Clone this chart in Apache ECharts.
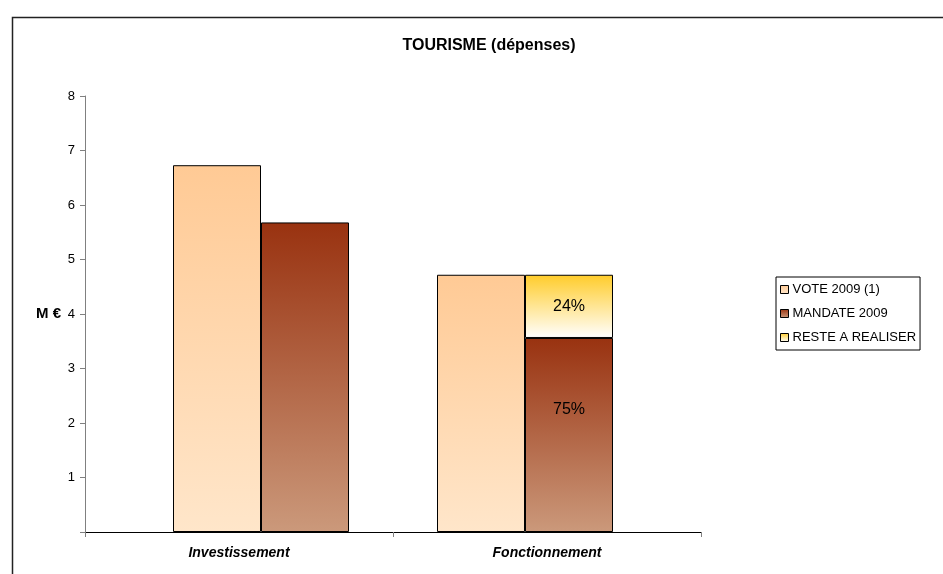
<!DOCTYPE html>
<html>
<head>
<meta charset="utf-8">
<script src="https://cdn.jsdelivr.net/npm/echarts@6/dist/echarts.min.js"></script>
<style>html,body{margin:0;padding:0;background:#fff;}#c{width:943px;height:574px;}</style>
</head>
<body>
<div id="c"></div>
<script>
// ---- data ----
var titleText = 'TOURISME (dépenses)';
var categories = ['Investissement', 'Fonctionnement'];
var seriesNames = ['VOTE 2009 (1)', 'MANDATE 2009', 'RESTE A REALISER'];
var vote = [6.73, 4.72];
var mandate = [5.68, 3.56];
var reste = [null, 1.16];
var resteLabels = [null, '24%'];
var mandateLabels = [null, '75%'];
var yTicks = [0, 1, 2, 3, 4, 5, 6, 7, 8];

// ---- build slot arrays (7 slots: gap, vote, mandate, gap, vote, mandate, gap) ----
var slots = ['s0','s1','s2','s3','s4','s5','s6'];
function blank(){ return [null,null,null,null,null,null,null]; }
var voteSlots = blank(), mandSlots = blank(), resteSlots = blank();
categories.forEach(function(c, i){
  var base = 1 + i * 3;
  voteSlots[base] = vote[i];
  mandSlots[base + 1] = { value: mandate[i], lbl: mandateLabels[i] };
  resteSlots[base + 1] = reste[i] == null ? null : { value: reste[i], lbl: resteLabels[i] };
});

function lg(c0, c1){
  return { type: 'linear', x: 0, y: 0, x2: 0, y2: 1,
    colorStops: [{ offset: 0, color: c0 }, { offset: 1, color: c1 }] };
}

var chart = echarts.init(document.getElementById('c'));
chart.setOption({
  backgroundColor: '#fff',
  animation: false,
  textStyle: { fontFamily: 'Arial, "Liberation Sans", sans-serif' },
  title: {
    text: titleText, left: 484, top: 33, textAlign: 'center',
    textStyle: { fontSize: 16, fontWeight: 'bold', color: '#000' }
  },
  graphic: [{
    type: 'rect', left: 10, top: 15, z: -1,
    shape: { width: 1000, height: 700 },
    style: { fill: 'none', stroke: '#222', lineWidth: 1.5 }
  }],
  legend: {
    orient: 'vertical', left: 776, top: 277, width: 140, height: 71,
    padding: [6, 4, 6, 4], itemGap: 11, itemWidth: 8, itemHeight: 8,
    backgroundColor: '#fff', borderColor: '#000', borderWidth: 1,
    icon: 'rect',
    data: seriesNames,
    textStyle: { fontSize: 13, color: '#000', padding: [0, 0, 0, -1] },
    itemStyle: { borderColor: '#000', borderWidth: 1 }
  },
  grid: { left: 85, right: 242, top: 96, bottom: 42 },
  xAxis: [{
    type: 'category', data: categories, boundaryGap: true,
    axisLine: { lineStyle: { color: '#000', width: 1 } },
    axisTick: { show: true, inside: false, length: 5, lineStyle: { color: '#808080' } },
    axisLabel: { fontSize: 14, fontWeight: 'bold', fontStyle: 'italic', color: '#000', margin: 14 }
  }, {
    type: 'category', data: slots, show: false, gridIndex: 0
  }],
  yAxis: {
    type: 'value', min: 0, max: 8, interval: 1,
    name: 'M €', nameLocation: 'middle', nameRotate: 0, nameGap: 24,
    nameTextStyle: { fontSize: 15, fontWeight: 'bold', color: '#000', align: 'right' },
    axisLine: { show: true, lineStyle: { color: '#808080', width: 1 } },
    axisTick: { show: true, length: 5, lineStyle: { color: '#808080' } },
    splitLine: { show: false },
    axisLabel: { fontSize: 13, color: '#000', margin: 10,
      formatter: function(v){ return v === yTicks[0] ? '' : String(v); } }
  },
  series: [{
    name: seriesNames[0], type: 'bar', xAxisIndex: 1, stack: 'all',
    barWidth: '100%', data: voteSlots,
    itemStyle: { color: lg('#FFCA95', '#FFE6CA'), borderColor: '#000', borderWidth: 1 }
  }, {
    name: seriesNames[1], type: 'bar', xAxisIndex: 1, stack: 'all',
    barWidth: '100%', data: mandSlots,
    itemStyle: { color: lg('#993210', '#CB997B'), borderColor: '#000', borderWidth: 1 },
    label: { show: true, position: 'inside', offset: [0, -25], fontSize: 16, color: '#000',
      formatter: function(p){ return p.data && p.data.lbl ? p.data.lbl : ''; } }
  }, {
    name: seriesNames[2], type: 'bar', xAxisIndex: 1, stack: 'all',
    barWidth: '100%', data: resteSlots,
    itemStyle: { color: lg('#FFCC2A', '#FFFFFF'), borderColor: '#000', borderWidth: 1 },
    label: { show: true, position: 'inside', fontSize: 16, color: '#000',
      formatter: function(p){ return p.data && p.data.lbl ? p.data.lbl : ''; } }
  }]
});
</script>
</body>
</html>
